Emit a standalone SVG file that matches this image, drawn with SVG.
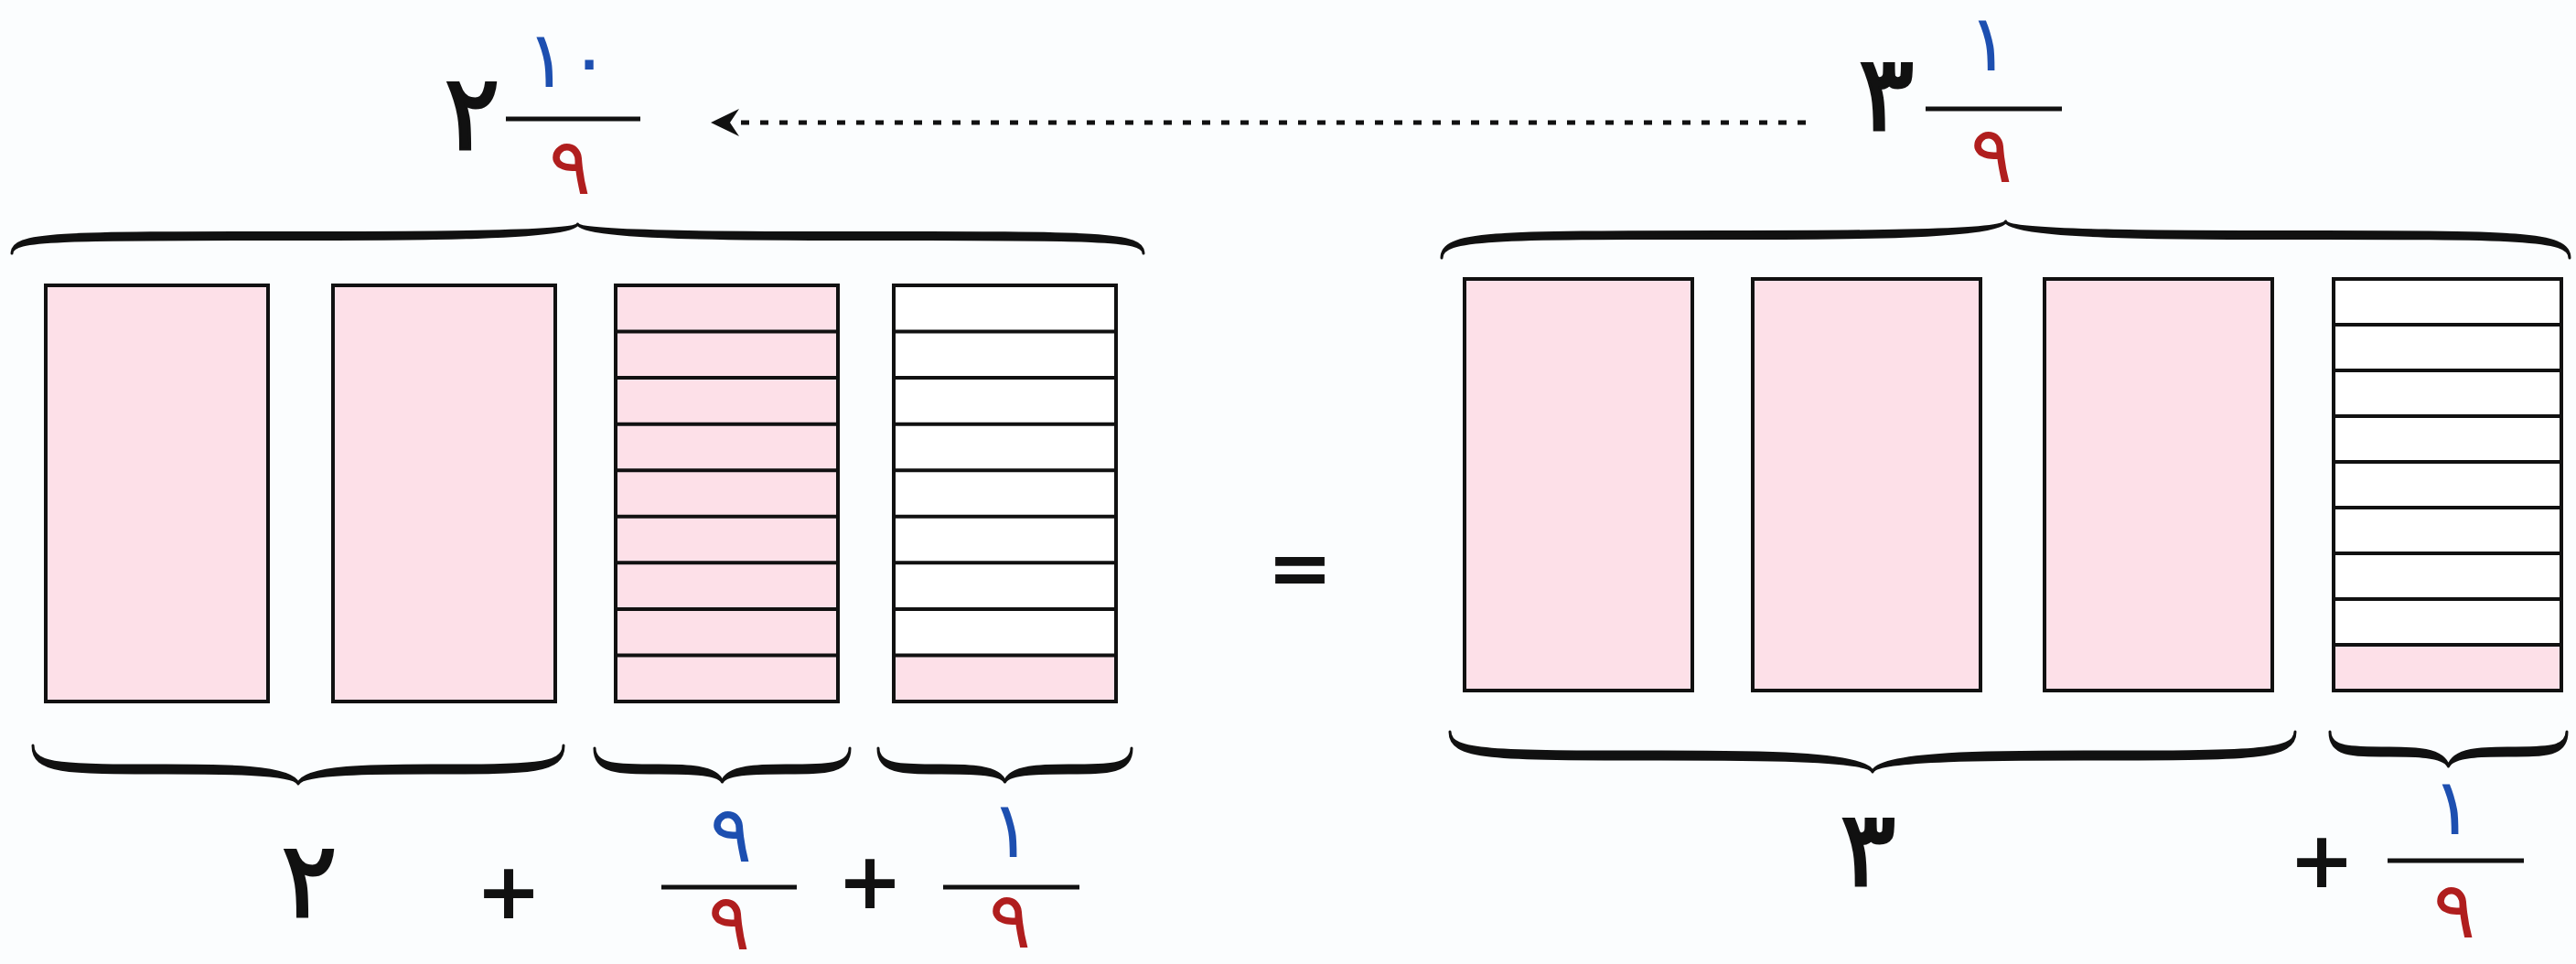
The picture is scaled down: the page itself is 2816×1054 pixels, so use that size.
<svg xmlns="http://www.w3.org/2000/svg" width="2816" height="1054" viewBox="0 0 2816 1054">
<style>
.bar{fill:#fde0e8;stroke:#111;stroke-width:4}
.wbar{fill:#ffffff;stroke:#111;stroke-width:4}
.pink{fill:#fde0e8;stroke:none}
.div{stroke:#111;stroke-width:4}
.brace{fill:#111;stroke:#111;stroke-width:3;stroke-linejoin:round}
.fl{stroke:#111;stroke-width:5}
.k{font-family:"DejaVu Sans",sans-serif;font-size:114px;fill:#111;stroke:#111;stroke-width:3;text-anchor:middle}
.b{font-family:"DejaVu Sans",sans-serif;font-size:86px;fill:#1d4fb0;text-anchor:middle}
.r{font-family:"DejaVu Sans",sans-serif;font-size:86px;fill:#b01e1e;text-anchor:middle}
.op{font-family:"DejaVu Sans",sans-serif;font-weight:bold;font-size:86px;fill:#111;text-anchor:middle}
</style>
<defs>
<marker id="ah" viewBox="-20 -17 36 34" refX="0" refY="0" markerWidth="36" markerHeight="34" markerUnits="userSpaceOnUse" orient="auto">
<path d="M13,0 L-18,-15 L-8,0 L-18,15 Z" fill="#111"/>
</marker>
</defs>
<rect x="0" y="0" width="2816" height="1054" fill="#fbfdfe"/>

<g id="left-label">
<text class="k" x="516" y="163">٢</text>
<line class="fl" x1="553" y1="130" x2="700" y2="130"/>
<text class="b" x="621" y="95">١٠</text>
<text class="r" x="623" y="212">٩</text>
</g>

<g id="right-label">
<text class="k" x="2062" y="142">٣</text>
<line class="fl" x1="2105" y1="119" x2="2254" y2="119"/>
<text class="b" x="2174" y="77">١</text>
<text class="r" x="2177" y="199">٩</text>
</g>

<g id="connectors">
<line x1="1974" y1="134" x2="790" y2="134" stroke="#111" stroke-width="5" stroke-dasharray="9 12" marker-end="url(#ah)"/>
</g>

<g id="left-top-brace">
<path class="brace" d="M13,277 C13,254.5 63,254.5 322,254.5 C446.5,254.5 626.5,254.5 631.5,245 C636.5,254.5 816.5,254.5 941,254.5 C1200,254.5 1250,254.5 1250,277 C1250,261.5 1200,261.5 941,261.5 C816.5,261.5 636.5,261.5 631.5,245 C626.5,261.5 446.5,261.5 322,261.5 C63,261.5 13,261.5 13,277 Z"/>
</g>
<g id="right-top-brace">
<path class="brace" d="M1576,282 C1576,253.5 1631,253.5 1884,253.5 C2007.5,253.5 2187.5,253.5 2192.5,242 C2197.5,253.5 2377.5,253.5 2501,253.5 C2754,253.5 2809,253.5 2809,282 C2809,260.5 2754,260.5 2501,260.5 C2377.5,260.5 2197.5,260.5 2192.5,242 C2187.5,260.5 2007.5,260.5 1884,260.5 C1631,260.5 1576,260.5 1576,282 Z"/>
</g>

<g id="left-bar-1"><rect class="bar" x="50" y="312" width="243" height="455"/></g>
<g id="left-bar-2"><rect class="bar" x="364" y="312" width="243" height="455"/></g>
<g id="left-bar-3">
<rect class="bar" x="673" y="312" width="243" height="455"/>
<path class="div" d="M673,362.6H916M673,413.1H916M673,463.7H916M673,514.2H916M673,564.8H916M673,615.3H916M673,665.9H916M673,716.4H916"/>
</g>
<g id="left-bar-4">
<rect class="wbar" x="977" y="312" width="243" height="455"/>
<rect class="pink" x="977" y="716.4" width="243" height="50.6"/>
<rect x="977" y="312" width="243" height="455" fill="none" stroke="#111" stroke-width="4"/>
<path class="div" d="M977,362.6H1220M977,413.1H1220M977,463.7H1220M977,514.2H1220M977,564.8H1220M977,615.3H1220M977,665.9H1220M977,716.4H1220"/>
</g>

<g id="right-bar-1"><rect class="bar" x="1601" y="305" width="249" height="450"/></g>
<g id="right-bar-2"><rect class="bar" x="1916" y="305" width="249" height="450"/></g>
<g id="right-bar-3"><rect class="bar" x="2235" y="305" width="249" height="450"/></g>
<g id="right-bar-4">
<rect class="wbar" x="2551" y="305" width="249" height="450"/>
<rect class="pink" x="2551" y="705" width="249" height="50"/>
<rect x="2551" y="305" width="249" height="450" fill="none" stroke="#111" stroke-width="4"/>
<path class="div" d="M2551,355H2800M2551,405H2800M2551,455H2800M2551,505H2800M2551,555H2800M2551,605H2800M2551,655H2800M2551,705H2800"/>
</g>

<g id="equals"><text class="op" x="1421" y="650">=</text></g>

<g id="left-bottom-braces">
<path class="brace" d="M36,815 C36,837 71,837 181,837 C239,837 321,837 326,857 C331,837 413,837 471,837 C581,837 616,837 616,815 C616,845 581,845 471,845 C413,845 331,845 326,857 C321,845 239,845 181,845 C71,845 36,845 36,815 Z"/>
<path class="brace" d="M650,818 C650,837 675,837 720,837 C747.5,837 784.5,837 789.5,855 C794.5,837 831.5,837 859,837 C904,837 929,837 929,818 C929,845 904,845 859,845 C831.5,845 794.5,845 789.5,855 C784.5,845 747.5,845 720,845 C675,845 650,845 650,818 Z"/>
<path class="brace" d="M960,818 C960,837 985,837 1029,837 C1056.5,837 1093.5,837 1098.5,855 C1103.5,837 1140.5,837 1168,837 C1212,837 1237,837 1237,818 C1237,845 1212,845 1168,845 C1140.5,845 1103.5,845 1098.5,855 C1093.5,845 1056.5,845 1029,845 C985,845 960,845 960,818 Z"/>
</g>

<g id="right-bottom-braces">
<path class="brace" d="M1585,800 C1585,822 1630,822 1816,822 C1908,822 2042,822 2047,844 C2052,822 2186,822 2278,822 C2464,822 2509,822 2509,800 C2509,830 2464,830 2278,830 C2186,830 2052,830 2047,844 C2042,830 1908,830 1816,830 C1630,830 1585,830 1585,800 Z"/>
<path class="brace" d="M2547,800 C2547,818 2569,818 2612,818 C2637.5,818 2671.5,818 2676.5,838 C2681.5,818 2715.5,818 2741,818 C2784,818 2806,818 2806,800 C2806,826 2784,826 2741,826 C2715.5,826 2681.5,826 2676.5,838 C2671.5,826 2637.5,826 2612,826 C2569,826 2547,826 2547,800 Z"/>
</g>

<g id="left-sum">
<text class="k" x="338" y="1002">٢</text>
<text class="op" x="556" y="1004">+</text>
<line class="fl" x1="723" y1="970" x2="871" y2="970"/>
<text class="b" x="799" y="942">٩</text>
<text class="r" x="797" y="1038">٩</text>
<text class="op" x="951" y="993">+</text>
<line class="fl" x1="1031" y1="970" x2="1180" y2="970"/>
<text class="b" x="1105" y="937">١</text>
<text class="r" x="1104" y="1036">٩</text>
</g>

<g id="right-sum">
<text class="k" x="2042" y="968">٣</text>
<text class="op" x="2538" y="970">+</text>
<line class="fl" x1="2610" y1="941" x2="2759" y2="941"/>
<text class="b" x="2681" y="912">١</text>
<text class="r" x="2683" y="1025">٩</text>
</g>
</svg>
